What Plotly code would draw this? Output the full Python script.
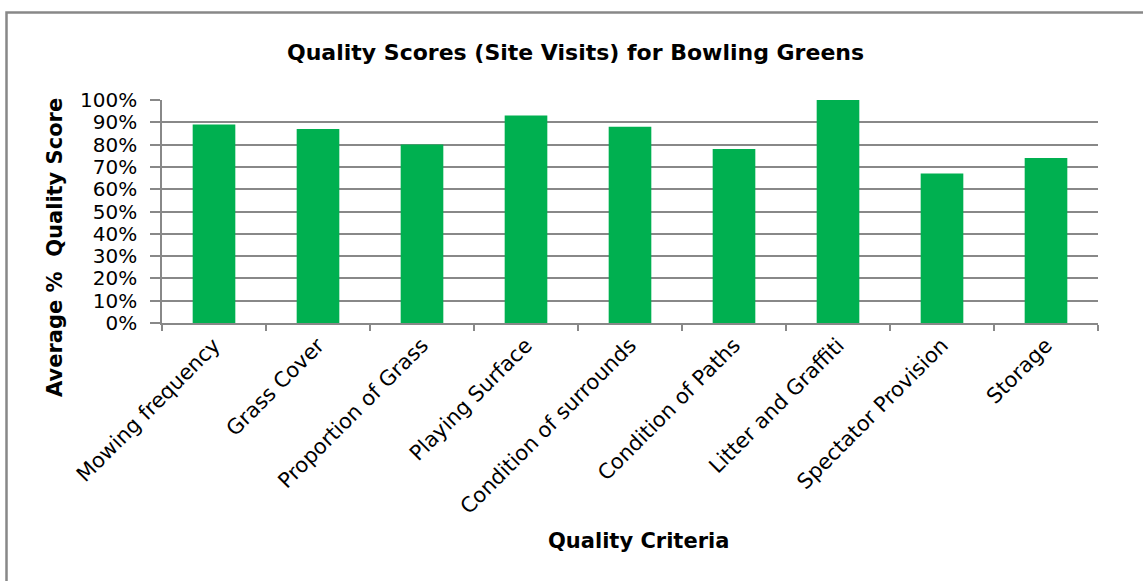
import plotly.graph_objects as go

# Site-visit quality criteria and their average scores (fraction of max)
criteria = [
    "Mowing frequency",
    "Grass Cover",
    "Proportion of Grass",
    "Playing Surface",
    "Condition of surrounds",
    "Condition of Paths",
    "Litter and Graffiti",
    "Spectator Provision",
    "Storage",
]
avg_scores = [0.89, 0.87, 0.80, 0.93, 0.88, 0.78, 1.00, 0.67, 0.74]

y_tick_vals = [i / 10 for i in range(11)]
y_tick_text = [f"{i * 10}%" for i in range(11)]

GRID = "#888888"
GREEN = "#00B050"
FONT = "DejaVu Sans"

W, H = 1143, 581
L, R, T, B = 162, 45, 100, 258
pw, ph = W - L - R, H - T - B


def px_x(x):
    return (x - L) / pw


def px_y(y):
    return (H - B - y) / ph


fig = go.Figure(
    go.Bar(
        x=criteria,
        y=avg_scores,
        marker=dict(color=GREEN, line=dict(width=0)),
    )
)

fig.update_layout(
    width=W,
    height=H,
    margin=dict(l=L, r=R, t=T, b=B, pad=0),
    paper_bgcolor="white",
    plot_bgcolor="white",
    bargap=0.59,
    showlegend=False,
    font=dict(family=FONT, color="black"),
)

fig.update_xaxes(
    type="category",
    showline=True,
    linecolor=GRID,
    linewidth=1.5,
    ticks="outside",
    tickson="boundaries",
    ticklen=6,
    tickcolor=GRID,
    tickwidth=1.5,
    tickangle=-45,
    tickfont=dict(family=FONT, size=21, color="black"),
    showgrid=False,
)

fig.update_yaxes(
    range=[0, 1],
    tickvals=y_tick_vals,
    ticktext=y_tick_text,
    showline=True,
    linecolor=GRID,
    linewidth=1.5,
    ticks="outside",
    ticklen=10,
    tickcolor=GRID,
    tickwidth=1.5,
    showgrid=True,
    gridcolor=GRID,
    gridwidth=1.5,
    zeroline=False,
    ticklabelstandoff=9,
    tickfont=dict(family=FONT, size=20, color="black"),
)

annotations = [
    dict(
        text="<b>Quality Scores (Site Visits) for Bowling Greens</b>",
        x=px_x(575), y=px_y(52),
        font=dict(family=FONT, size=22, color="black"),
    ),
    dict(
        text="<b>Quality Criteria</b>",
        x=px_x(638), y=px_y(541),
        font=dict(family=FONT, size=21, color="black"),
    ),
    dict(
        text="<b>Average %  Quality Score</b>",
        x=px_x(55), y=px_y(248),
        textangle=-90,
        font=dict(family=FONT, size=21, color="black"),
    ),
]
for a in annotations:
    a.update(xref="paper", yref="paper", showarrow=False,
             xanchor="center", yanchor="middle")
fig.update_layout(annotations=annotations)

# Chart frame
fig.add_shape(
    type="rect",
    xref="paper", yref="paper",
    x0=px_x(6.5), x1=px_x(1160),
    y0=px_y(600), y1=px_y(12.5),
    line=dict(color=GRID, width=2.5),
    fillcolor="rgba(0,0,0,0)",
    layer="below",
)

fig.write_html("out.html")
